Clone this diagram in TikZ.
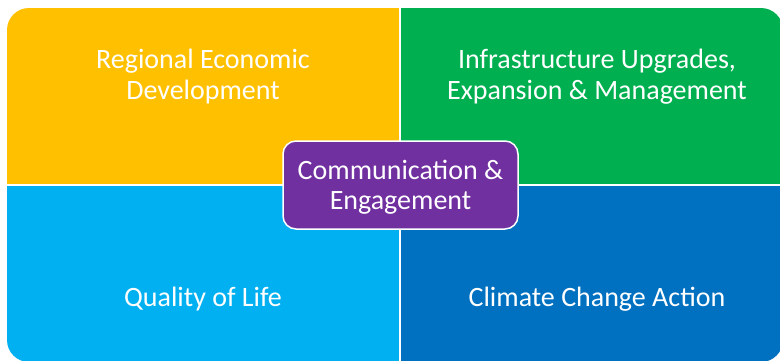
\documentclass[tikz,border=0pt]{standalone}
\usepackage{fontspec}
\setmainfont{Carlito}
\definecolor{qyellow}{HTML}{FFC000}
\definecolor{qgreen}{HTML}{00B050}
\definecolor{qlightblue}{HTML}{00B0F0}
\definecolor{qblue}{HTML}{0070C0}
\definecolor{qpurple}{HTML}{7030A0}
\begin{document}
\begin{tikzpicture}[x=1pt,y=-1pt,
  label text/.style={text=white, align=center, inner sep=0pt,
    font=\fontsize{28}{31}\selectfont},
  hub/.style={rounded corners=13pt, fill=qpurple, draw=white, line width=1.5pt,
    minimum width=235pt, minimum height=88pt, inner sep=0pt}]
  \useasboundingbox (0,0) rectangle (780,360);
  % four quadrants inside one rounded outline
  \begin{scope}
    \clip[rounded corners=22pt] (7,8) rectangle (783,362);
    \fill[qyellow]    (7,8)     rectangle (399,184);
    \fill[qgreen]     (401,8)   rectangle (783,184);
    \fill[qlightblue] (7,186)   rectangle (399,362);
    \fill[qblue]      (401,186) rectangle (783,362);
  \end{scope}
  \node[label text] (econ)    at (203,76.5)  {Regional Economic\\Development};
  \node[label text] (infra)   at (597,76.5)  {Infrastructure Upgrades,\\Expansion \& Management};
  \node[label text] (life)    at (203,299) {Quality of Life};
  \node[label text] (climate) at (597,299) {Climate Change Action};
  % central box and its caption
  \node[hub] (comm) at (400.5,185) {};
  \node[label text, font=\fontsize{28}{30}\selectfont] (commtext) at (400.5,187.5)
    {Communication \&\\Engagement};
\end{tikzpicture}
\end{document}
